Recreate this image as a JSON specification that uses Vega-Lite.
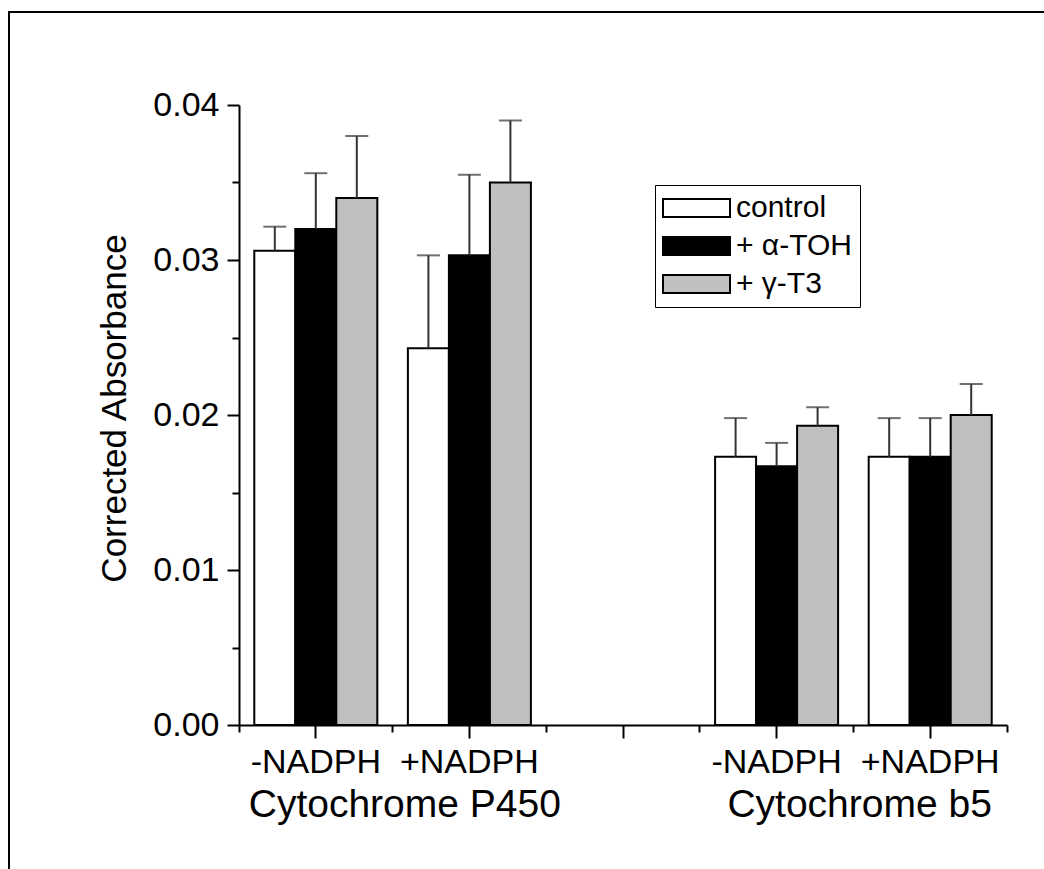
{
  "$schema": "https://vega.github.io/schema/vega-lite/v6.json",
  "width": 1060,
  "height": 880,
  "autosize": "none",
  "padding": {"left": 9, "top": 12, "right": -25, "bottom": -23},
  "background": "white",
  "config": {
    "font": "Liberation Sans",
    "view": {"stroke": "black", "strokeWidth": 2},
    "axis": {"labelColor": "black", "titleColor": "black", "domainColor": "black", "tickColor": "black", "grid": false}
  },
  "data": {
    "values": [
      {"cond": "P450-", "treatment": "control", "mean": 0.0306, "upper": 0.03215},
      {"cond": "P450-", "treatment": "+ α-TOH", "mean": 0.0320, "upper": 0.0356},
      {"cond": "P450-", "treatment": "+ γ-T3", "mean": 0.0340, "upper": 0.0380},
      {"cond": "P450+", "treatment": "control", "mean": 0.0243, "upper": 0.0303},
      {"cond": "P450+", "treatment": "+ α-TOH", "mean": 0.0303, "upper": 0.0355},
      {"cond": "P450+", "treatment": "+ γ-T3", "mean": 0.0350, "upper": 0.0390},
      {"cond": "b5-", "treatment": "control", "mean": 0.0173, "upper": 0.0198},
      {"cond": "b5-", "treatment": "+ α-TOH", "mean": 0.0167, "upper": 0.0182},
      {"cond": "b5-", "treatment": "+ γ-T3", "mean": 0.0193, "upper": 0.0205},
      {"cond": "b5+", "treatment": "control", "mean": 0.0173, "upper": 0.0198},
      {"cond": "b5+", "treatment": "+ α-TOH", "mean": 0.0173, "upper": 0.0198},
      {"cond": "b5+", "treatment": "+ γ-T3", "mean": 0.0200, "upper": 0.0220}
    ]
  },
  "encoding": {
    "xOffset": {
      "field": "treatment", "type": "nominal",
      "scale": {"domain": ["control", "+ α-TOH", "+ γ-T3"], "paddingInner": 0, "paddingOuter": 0.373}
    }
  },
  "layer": [
    {
      "mark": {"type": "bar", "stroke": "black", "strokeWidth": 2},
      "encoding": {
        "x": {
          "field": "cond", "type": "nominal",
          "scale": {"domain": ["P450-", "P450+", "gap", "b5-", "b5+"], "range": [230, 998], "paddingInner": 0, "paddingOuter": 0},
          "axis": {
            "orient": "bottom", "offset": -167, "title": null, "domainWidth": 2, "tickWidth": 2, "tickSize": 13,
            "labelFontSize": 34, "labelPadding": 7, "labelAngle": 0, "labelOverlap": false, "labelLimit": 0,
            "labelExpr": "indexof(datum.value, '-') >= 0 ? '-NADPH' : (indexof(datum.value, '+') >= 0 ? '+NADPH' : '')"
          }
        },
        "y": {
          "field": "mean", "type": "quantitative",
          "scale": {"domain": [0, 0.04], "range": [713, 93], "nice": false, "zero": true},
          "axis": {
            "title": "Corrected Absorbance", "orient": "left", "offset": -230,
            "values": [0, 0.005, 0.01, 0.015, 0.02, 0.025, 0.03, 0.035, 0.04],
            "domainWidth": 2, "tickWidth": 2,
            "tickSize": {"condition": {"test": "round(datum.value*200) % 2 == 0", "value": 12}, "value": 7},
            "labelExpr": "round(datum.value*200) % 2 == 0 ? format(datum.value, '.2f') : ''",
            "labelFontSize": 34, "labelPadding": 8, "labelOverlap": false,
            "titleFontSize": 35, "titleFontWeight": "normal", "titlePadding": 20, "titleY": 396
          }
        },
        "fill": {
          "field": "treatment", "type": "nominal",
          "scale": {"domain": ["control", "+ α-TOH", "+ γ-T3"], "range": ["white", "black", "#c0c0c0"]},
          "legend": {
            "title": null, "orient": "none", "legendX": 646, "legendY": 173,
            "symbolType": "M-3.35,-0.9H3.35V0.9H-3.35Z", "symbolSize": 400,
            "symbolOffset": 18.5,
            "symbolStrokeColor": "black", "symbolStrokeWidth": 2, "symbolOpacity": 1,
            "labelFontSize": 30, "labelColor": "black", "labelOffset": 24.5, "rowPadding": 8,
            "padding": 8, "strokeColor": "black"
          }
        }
      }
    },
    {
      "mark": {"type": "rule", "color": "#333", "strokeWidth": 2},
      "encoding": {
        "x": {
          "field": "cond", "type": "nominal",
          "axis": {
            "orient": "bottom", "offset": -167, "title": null, "domain": false, "tickWidth": 2, "tickSize": 7,
            "bandPosition": 1, "labelFontSize": 39, "labelPadding": 53, "labelAngle": 0, "labelOverlap": false, "labelLimit": 0,
            "labelOffset": {"condition": {"test": "datum.value == 'P450-'", "value": 89}, "value": 83},
            "labelExpr": "datum.value == 'P450-' ? 'Cytochrome P450' : (datum.value == 'b5-' ? 'Cytochrome b5' : '')"
          }
        },
        "y": {"field": "mean", "type": "quantitative"},
        "y2": {"field": "upper"}
      }
    },
    {
      "mark": {"type": "tick", "color": "#333", "thickness": 2, "size": 23},
      "encoding": {
        "x": {
          "field": "cond", "type": "nominal",
          "axis": {
            "orient": "bottom", "offset": -167, "title": null, "domain": false, "tickWidth": 2, "tickSize": 7,
            "bandPosition": 0, "values": ["P450-"], "labels": false
          }
        },
        "y": {"field": "upper", "type": "quantitative"}
      }
    }
  ],
  "resolve": {"axis": {"x": "independent"}}
}
